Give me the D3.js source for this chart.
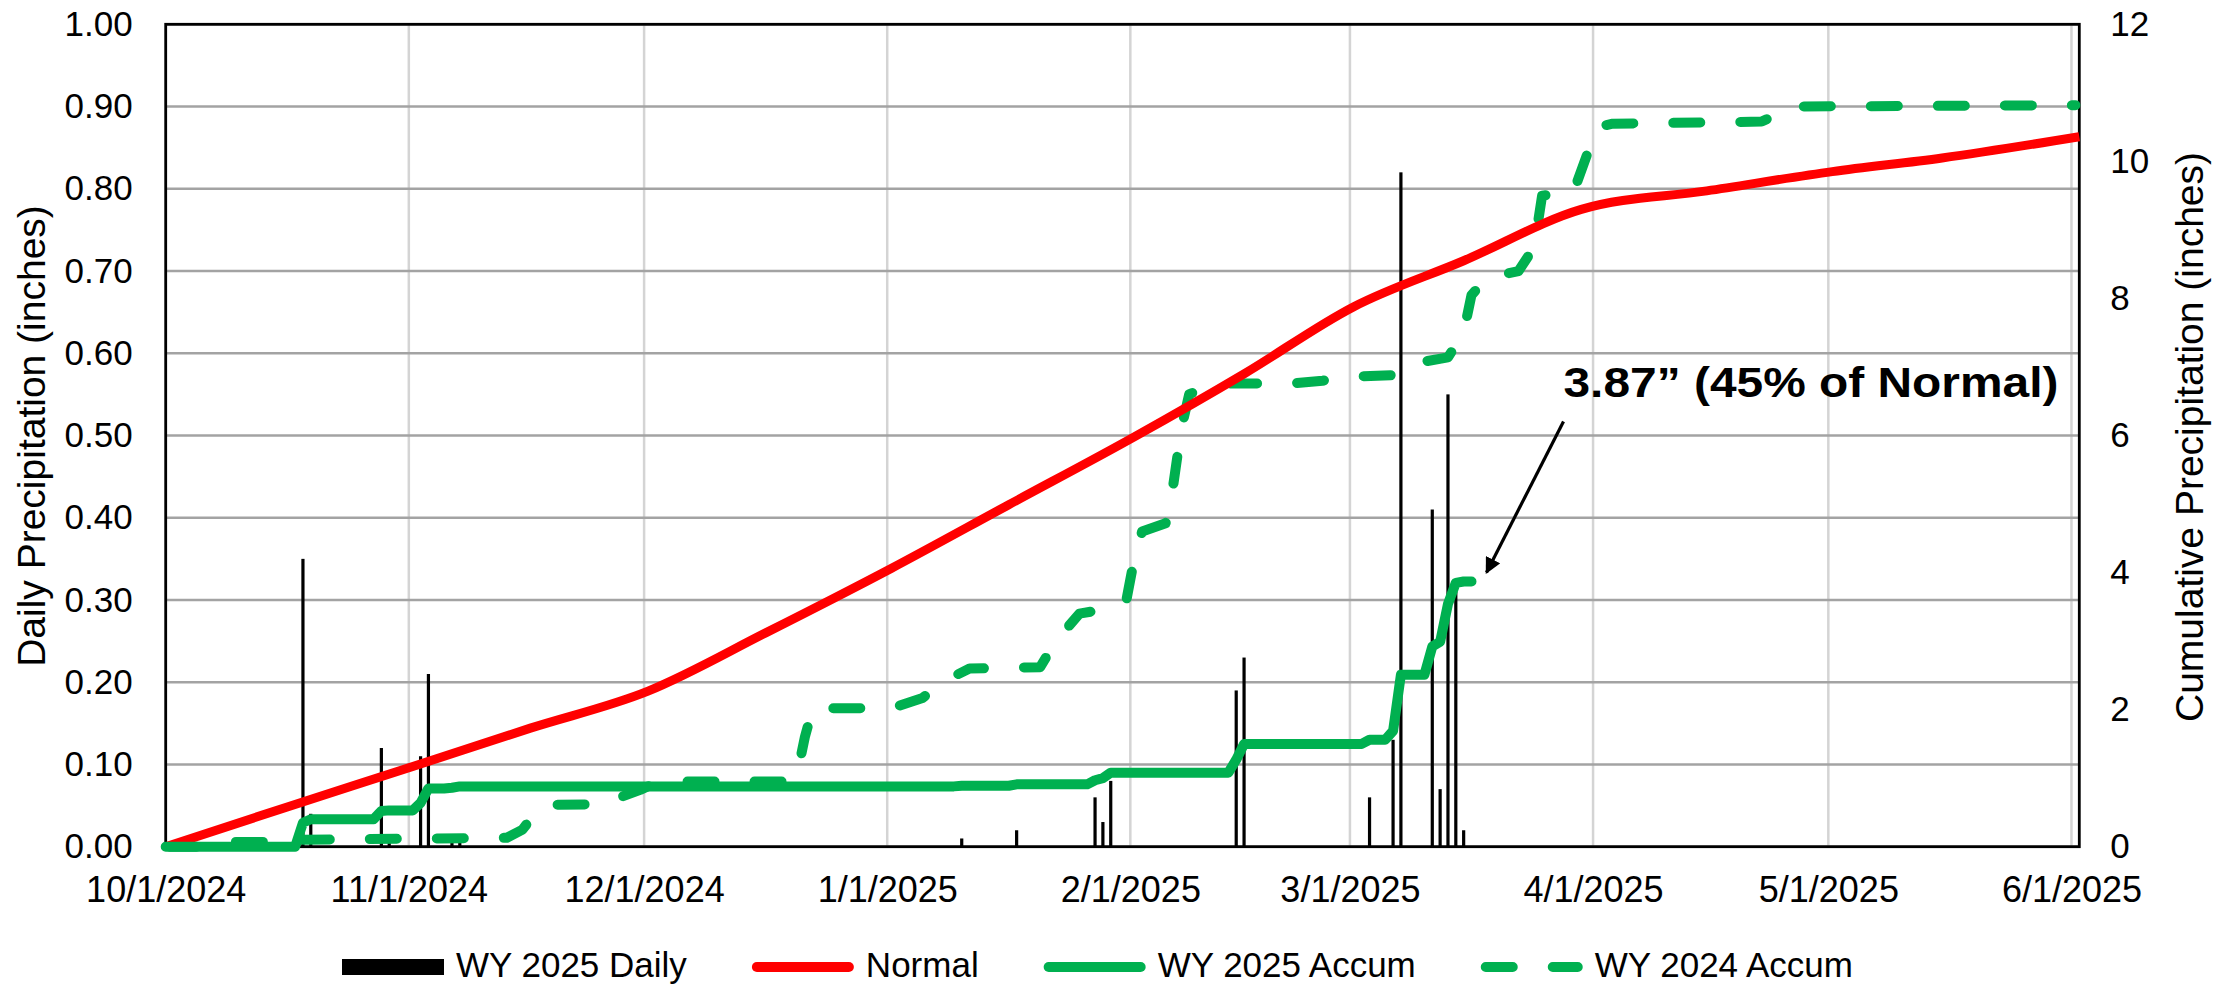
<!DOCTYPE html>
<head>
  <meta charset="utf-8">
  <title>Precipitation</title>
  <script src="https://d3js.org/d3.v7.min.js"></script>
  <style>
    body { margin: 0; background: #fff; }
    text { font-family: "Liberation Sans", Arial, sans-serif; fill: #000; }
  </style>
</head>
<body>
  <div id="chart"></div>
  <script type="text/javascript">

    // tick labels
    var monthTicks = ['10/1/2024', '11/1/2024', '12/1/2024', '1/1/2025', '2/1/2025',
                      '3/1/2025', '4/1/2025', '5/1/2025', '6/1/2025'];
    var leftTicks = [0, 0.1, 0.2, 0.3, 0.4, 0.5, 0.6, 0.7, 0.8, 0.9, 1.0];
    var rightTicks = [0, 2, 4, 6, 8, 10, 12];

    // WY 2025 daily precipitation (inches)
    var dailyDates = ['10/18/2024', '10/19/2024', '10/28/2024', '10/29/2024', '11/2/2024', '11/3/2024',
                      '11/6/2024', '11/7/2024', '1/10/2025', '1/17/2025', '1/27/2025', '1/28/2025',
                      '1/29/2025', '2/14/2025', '2/15/2025', '3/3/2025', '3/6/2025', '3/7/2025',
                      '3/11/2025', '3/12/2025', '3/13/2025', '3/14/2025', '3/15/2025'];
    var dailyValues = [0.35, 0.04, 0.12, 0.01, 0.11, 0.21,
                       0.01, 0.01, 0.01, 0.02, 0.06, 0.03,
                       0.08, 0.19, 0.23, 0.06, 0.13, 0.82,
                       0.41, 0.07, 0.55, 0.31, 0.02];

    // Normal cumulative (inches)
    var normalDates = ['10/1/2024', '10/16/2024', '11/1/2024', '11/16/2024', '12/1/2024', '12/16/2024',
                       '1/1/2025', '1/16/2025', '2/1/2025', '2/15/2025', '3/1/2025', '3/15/2025',
                       '3/30/2025', '4/15/2025', '5/1/2025', '5/15/2025', '6/1/2025'];
    var normalValues = [0, 0.58, 1.17, 1.73, 2.27, 3.12,
                        4.06, 4.99, 5.98, 6.9, 7.88, 8.55,
                        9.3, 9.57, 9.85, 10.05, 10.36];

    // WY 2025 cumulative (inches)
    var wy25Dates = ['10/1/2024', '10/17/2024', '10/18/2024', '10/19/2024', '10/27/2024', '10/28/2024',
                     '10/29/2024', '11/1/2024', '11/2/2024', '11/3/2024', '11/5/2024', '11/6/2024',
                     '11/7/2024', '1/9/2025', '1/10/2025', '1/16/2025', '1/17/2025', '1/26/2025',
                     '1/27/2025', '1/28/2025', '1/29/2025', '2/13/2025', '2/14/2025', '2/15/2025',
                     '3/2/2025', '3/3/2025', '3/5/2025', '3/6/2025', '3/7/2025', '3/10/2025',
                     '3/11/2025', '3/12/2025', '3/13/2025', '3/14/2025', '3/15/2025', '3/16/2025'];
    var wy25Values = [0, 0, 0.35, 0.40, 0.40, 0.52,
                      0.53, 0.53, 0.64, 0.85, 0.85, 0.86,
                      0.88, 0.88, 0.89, 0.89, 0.91, 0.91,
                      0.97, 1.00, 1.08, 1.08, 1.27, 1.50,
                      1.50, 1.56, 1.56, 1.69, 2.51, 2.51,
                      2.92, 2.99, 3.54, 3.85, 3.87, 3.87];

    // WY 2024 cumulative (inches)
    var wy24Dates = ['10/1/2024', '10/7/2024', '10/9/2024', '10/13/2024', '10/16/2024', '11/13/2024',
                     '11/15/2024', '11/17/2024', '11/18/2024', '11/25/2024', '11/26/2024', '11/30/2024',
                     '12/2/2024', '12/4/2024', '12/19/2024', '12/20/2024', '12/21/2024', '12/22/2024',
                     '1/1/2025', '1/5/2025', '1/8/2025', '1/11/2025', '1/20/2025', '1/22/2025',
                     '1/25/2025', '1/29/2025', '1/31/2025', '2/1/2025', '2/2/2025', '2/5/2025',
                     '2/6/2025', '2/7/2025', '2/8/2025', '2/11/2025', '2/21/2025', '2/25/2025',
                     '3/1/2025', '3/6/2025', '3/9/2025', '3/13/2025', '3/15/2025', '3/16/2025',
                     '3/18/2025', '3/22/2025', '3/24/2025', '3/25/2025', '3/29/2025', '4/1/2025',
                     '4/3/2025', '4/22/2025', '4/26/2025', '6/1/2025'];
    var wy24Values = [0, 0, 0.07, 0.07, 0.1, 0.13,
                      0.25, 0.55, 0.61, 0.62, 0.66, 0.83,
                      0.93, 0.95, 0.95, 1.05, 1.6, 2.02,
                      2.02, 2.17, 2.43, 2.6, 2.62, 3.0,
                      3.4, 3.48, 3.6, 4.2, 4.6, 4.72,
                      5.3, 6.1, 6.6, 6.76, 6.76, 6.8,
                      6.86, 6.88, 7.06, 7.14, 7.5, 8.05,
                      8.3, 8.4, 8.75, 9.5, 9.55, 10.5,
                      10.55, 10.58, 10.8, 10.82];

    var legendNames = ['WY 2025 Daily', 'Normal', 'WY 2025 Accum', 'WY 2024 Accum'];
    var annotationText = '3.87\u201D (45% of Normal)';

    var parse = d3.utcParse('%m/%d/%Y');
    // Excel draws each day in the middle of its slot
    function mid(s) { return d3.utcHour.offset(parse(s), 12); }

    var width = 2234;
    var height = 987;
    var margin = { top: 24.3, right: 154.7, bottom: 140.3, left: 165.7 };
    var plotW = width - margin.left - margin.right;
    var plotH = height - margin.top - margin.bottom;

    var green = '#00b050';
    var red = '#ff0000';

    var xScale = d3.scaleUtc()
      .domain([parse('10/1/2024'), parse('6/2/2025')])
      .range([0, plotW]);
    var yLeft = d3.scaleLinear().domain([0, 1]).range([plotH, 0]);
    var yRight = d3.scaleLinear().domain([0, 12]).range([plotH, 0]);

    var svg = d3.select('#chart')
      .append('svg')
        .attr('width', width)
        .attr('height', height);

    var g = svg.append('g')
      .attr('transform', 'translate(' + margin.left + ',' + margin.top + ')');

    // vertical gridlines (month starts)
    g.selectAll('.vgrid')
        .data(monthTicks.slice(1))
        .enter()
      .append('line')
        .attr('x1', function (d) { return xScale(parse(d)); })
        .attr('x2', function (d) { return xScale(parse(d)); })
        .attr('y1', 0)
        .attr('y2', plotH)
        .attr('stroke', '#d4d4d4')
        .attr('stroke-width', 2.5);

    // horizontal gridlines
    g.selectAll('.hgrid')
        .data(leftTicks)
        .enter()
      .append('line')
        .attr('x1', 0)
        .attr('x2', plotW)
        .attr('y1', function (d) { return yLeft(d); })
        .attr('y2', function (d) { return yLeft(d); })
        .attr('stroke', '#a3a3a3')
        .attr('stroke-width', 2.5);

    // plot border
    g.append('rect')
      .attr('width', plotW)
      .attr('height', plotH)
      .attr('fill', 'none')
      .attr('stroke', '#000')
      .attr('stroke-width', 2.8);

    // axes
    var xAxis = d3.axisBottom(xScale)
      .tickValues(monthTicks.map(parse))
      .tickFormat(function (d, i) { return monthTicks[i]; })
      .tickSize(0)
      .tickPadding(30);
    var leftAxis = d3.axisLeft(yLeft)
      .tickValues(leftTicks)
      .tickFormat(d3.format('.2f'))
      .tickSize(0)
      .tickPadding(33);
    var rightAxis = d3.axisRight(yRight)
      .tickValues(rightTicks)
      .tickSize(0)
      .tickPadding(31);

    var gx = g.append('g').attr('transform', 'translate(0,' + plotH + ')').call(xAxis);
    var gl = g.append('g').call(leftAxis);
    var gr = g.append('g').attr('transform', 'translate(' + plotW + ',0)').call(rightAxis);
    [gx, gl, gr].forEach(function (a) {
      a.select('.domain').remove();
      a.selectAll('text').attr('font-size', 35).attr('fill', '#000')
        .style('font-family', '"Liberation Sans", Arial, sans-serif');
    });
    gx.selectAll('text').attr('font-size', 36);

    // axis titles
    svg.append('text')
      .attr('transform', 'translate(45,436) rotate(-90)')
      .attr('text-anchor', 'middle')
      .attr('font-size', 39)
      .text('Daily Precipitation (inches)');
    svg.append('text')
      .attr('transform', 'translate(2203,437) rotate(-90)')
      .attr('text-anchor', 'middle')
      .attr('font-size', 39)
      .text('Cumulative Precipitation (inches)');

    // daily bars
    var daily = dailyDates.map(function (d, i) { return { date: mid(d), value: dailyValues[i] }; });
    g.selectAll('.bar')
        .data(daily)
        .enter()
      .append('rect')
        .attr('x', function (d) { return xScale(d.date) - 1.6; })
        .attr('width', 3.2)
        .attr('y', function (d) { return yLeft(d.value); })
        .attr('height', function (d) { return plotH - yLeft(d.value); })
        .attr('fill', '#000');

    function series(dates, values) {
      return dates.map(function (d, i) { return { date: mid(d), value: values[i] }; });
    }
    var lineLinear = d3.line()
      .x(function (d) { return xScale(d.date); })
      .y(function (d) { return yRight(d.value); });
    var lineSmooth = d3.line()
      .curve(d3.curveMonotoneX)
      .x(function (d) { return xScale(d.date); })
      .y(function (d) { return yRight(d.value); });

    // WY 2024 accum (dashed)
    g.append('path')
      .datum(series(wy24Dates, wy24Values))
      .attr('d', lineLinear)
      .attr('fill', 'none')
      .attr('stroke', green)
      .attr('stroke-width', 10)
      .attr('stroke-linecap', 'round')
      .attr('stroke-linejoin', 'round')
      .attr('stroke-dasharray', '27 40');

    // Normal
    var normalData = series(normalDates, normalValues);
    normalData[0].date = parse('10/1/2024');
    normalData[normalData.length - 1].date = parse('6/2/2025');
    g.append('path')
      .datum(normalData)
      .attr('d', lineSmooth)
      .attr('fill', 'none')
      .attr('stroke', red)
      .attr('stroke-width', 9)
      .attr('stroke-linejoin', 'round');

    // WY 2025 accum
    var wy25 = series(wy25Dates, wy25Values);
    wy25[0].date = parse('10/1/2024');
    g.append('path')
      .datum(wy25)
      .attr('d', lineLinear)
      .attr('fill', 'none')
      .attr('stroke', green)
      .attr('stroke-width', 10)
      .attr('stroke-linecap', 'round')
      .attr('stroke-linejoin', 'round');

    // annotation arrow pointing at the end of WY 2025 accum
    var last = wy25[wy25.length - 1];
    var ex = xScale(last.date);
    var ey = yRight(last.value);
    svg.append('defs').append('marker')
        .attr('id', 'arrow')
        .attr('viewBox', '0 0 10 10')
        .attr('refX', 9)
        .attr('refY', 5)
        .attr('markerWidth', 5)
        .attr('markerHeight', 5)
        .attr('markerUnits', 'strokeWidth')
        .attr('orient', 'auto')
      .append('path')
        .attr('d', 'M0,0 L10,5 L0,10 Z')
        .attr('fill', '#000');
    g.append('line')
      .attr('x1', ex + 92)
      .attr('y1', ey - 160)
      .attr('x2', ex + 15)
      .attr('y2', ey - 9)
      .attr('stroke', '#000')
      .attr('stroke-width', 3.2)
      .attr('marker-end', 'url(#arrow)');
    g.append('text')
      .attr('x', ex + 92)
      .attr('y', ey - 184)
      .attr('font-size', 43)
      .attr('font-weight', 'bold')
      .attr('textLength', 495)
      .attr('lengthAdjust', 'spacingAndGlyphs')
      .text(annotationText);

    // legend
    var legend = svg.append('g').attr('transform', 'translate(342,967)');
    var lx = 0;
    legendNames.forEach(function (name, i) {
      var item = legend.append('g').attr('transform', 'translate(' + lx + ',0)');
      if (i === 0) {
        item.append('rect').attr('x', 0).attr('y', -8).attr('width', 102).attr('height', 16).attr('fill', '#000');
      } else {
        var l = item.append('line')
          .attr('x1', 5).attr('x2', 97).attr('y1', 0).attr('y2', 0)
          .attr('stroke', i === 1 ? red : green)
          .attr('stroke-width', 10)
          .attr('stroke-linecap', 'round');
        if (i === 3) l.attr('stroke-dasharray', '27 40');
      }
      var t = item.append('text')
        .attr('x', 114)
        .attr('y', 10)
        .attr('font-size', 35)
        .text(name);
      lx += 114 + t.node().getComputedTextLength() + 65;
    });
  </script>
</body>
